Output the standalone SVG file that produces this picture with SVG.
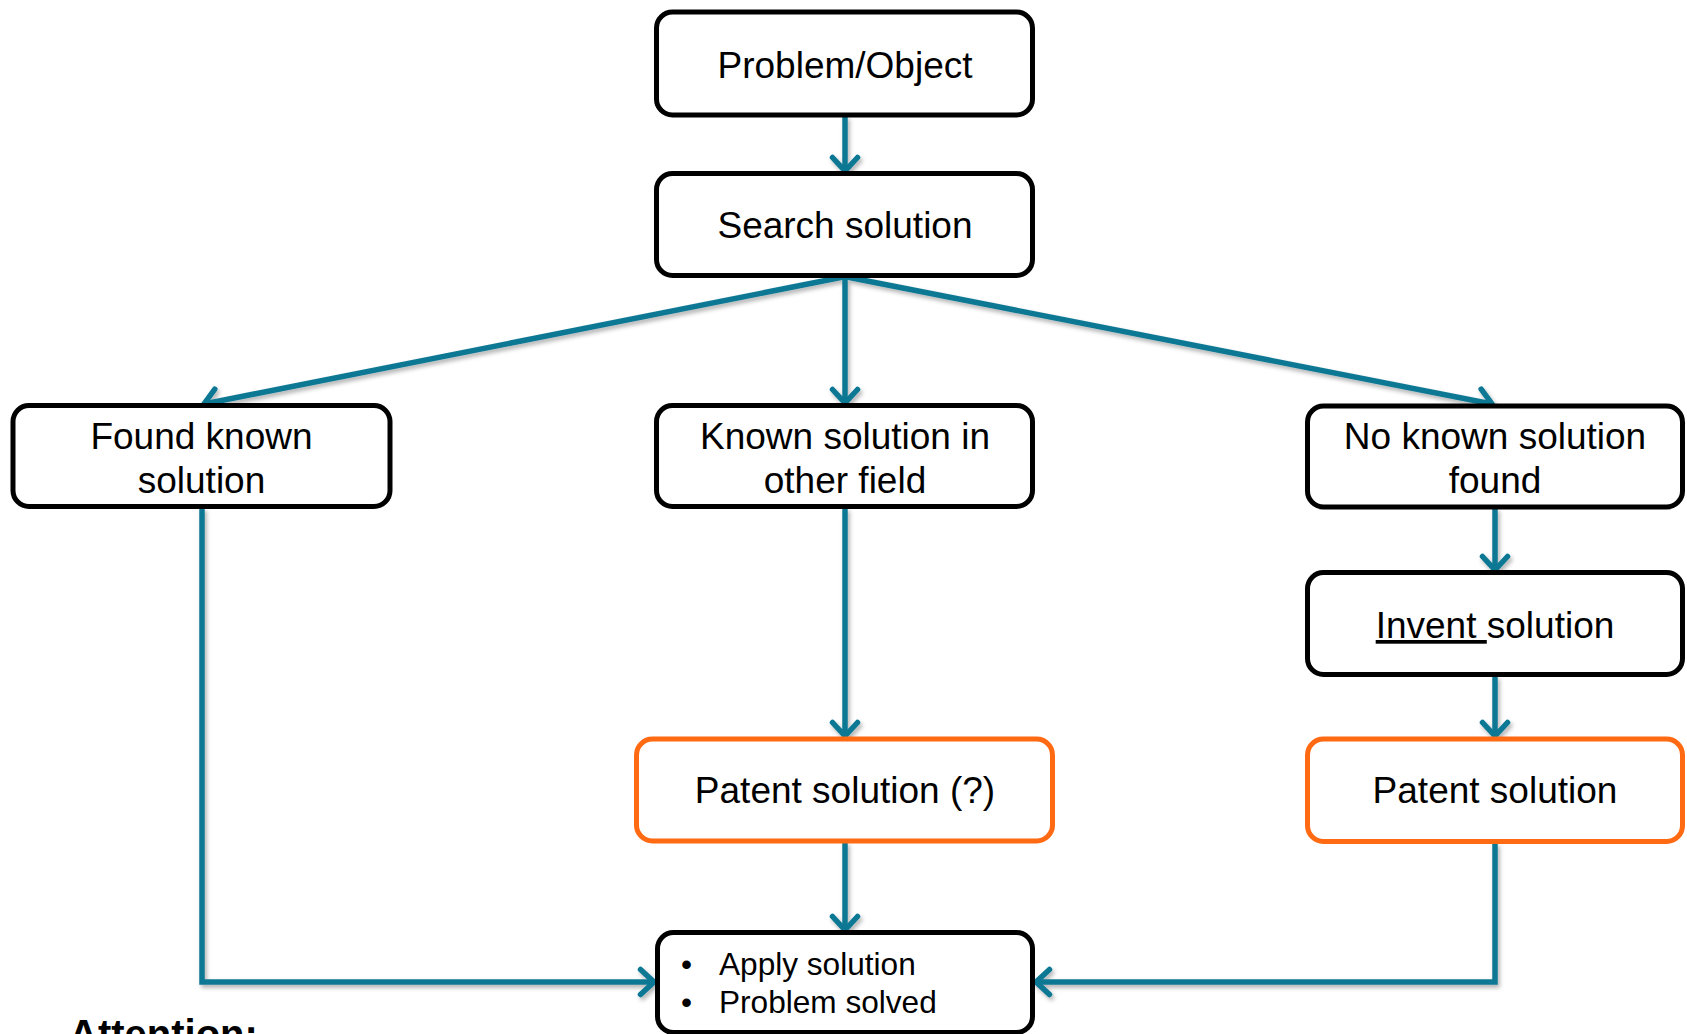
<svg xmlns="http://www.w3.org/2000/svg" width="1687" height="1034" viewBox="0 0 1687 1034">
<style>
.box{fill:#fff;stroke:#000;stroke-width:5}
.pat{fill:#fff;stroke:#FF6A13;stroke-width:5}
.t{font-family:"Liberation Sans",Arial,sans-serif;font-size:37px;fill:#000;text-anchor:middle}
.b{font-family:"Liberation Sans",Arial,sans-serif;font-size:31.6px;fill:#000}
.c{fill:none;stroke:#0F7894;stroke-width:5.5;marker-end:url(#ah)}
</style>
<defs>
<marker id="ah" markerUnits="userSpaceOnUse" markerWidth="32" markerHeight="32" viewBox="-17 -16 21 32" refX="0" refY="0" orient="auto">
<path d="M-13.5,-12.5 L0,0 L-13.5,12.5" fill="none" stroke="#0F7894" stroke-width="5.5" stroke-linecap="round" stroke-linejoin="miter"/>
</marker>
<filter id="sh" x="-5%" y="-5%" width="110%" height="110%">
<feDropShadow dx="2" dy="3" stdDeviation="2" flood-color="#000" flood-opacity="0.3"/>
</filter>
</defs>
<rect width="1687" height="1034" fill="#fff"/>
<g id="connectors" filter="url(#sh)">
<path class="c" d="M845,116 L845,171"/>
<path class="c" d="M843,277 L204,404"/>
<path class="c" d="M845,277 L845,403"/>
<path class="c" d="M847,277 L1492,404"/>
<path class="c" d="M202,508 L202,982 L654,982"/>
<path class="c" d="M845,508 L845,736"/>
<path class="c" d="M845,842 L845,930"/>
<path class="c" d="M1495,508 L1495,570"/>
<path class="c" d="M1495,676 L1495,736"/>
<path class="c" d="M1495,843 L1495,982 L1036,982"/>
</g>
<g id="n1"><rect class="box" x="656.5" y="12" width="376" height="103" rx="16"/><text class="t" x="845" y="78">Problem/Object</text></g>
<g id="n2"><rect class="box" x="656.5" y="173.5" width="376" height="102" rx="16"/><text class="t" x="845" y="238">Search solution</text></g>
<g id="n3"><rect class="box" x="13" y="405.5" width="377" height="101" rx="16"/><text class="t" x="201.5" y="449">Found known</text><text class="t" x="201.5" y="493">solution</text></g>
<g id="n4"><rect class="box" x="656.5" y="405.5" width="376" height="101" rx="16"/><text class="t" x="845" y="449">Known solution in</text><text class="t" x="845" y="493">other field</text></g>
<g id="n5"><rect class="box" x="1307.5" y="406" width="375" height="101" rx="16"/><text class="t" x="1495" y="449">No known solution</text><text class="t" x="1495" y="493">found</text></g>
<g id="n6"><rect class="box" x="1307.5" y="572.5" width="375" height="102" rx="16"/><text class="t" x="1495" y="638"><tspan text-decoration="underline">Invent </tspan>solution</text></g>
<g id="n7"><rect class="pat" x="1307.5" y="739" width="375" height="102.5" rx="16"/><text class="t" x="1495" y="803">Patent solution</text></g>
<g id="n8"><rect class="pat" x="636.5" y="739" width="416" height="102" rx="16"/><text class="t" x="845" y="803">Patent solution (?)</text></g>
<g id="n9"><rect class="box" x="657.5" y="932.5" width="375" height="100" rx="16"/>
<text class="b" y="975"><tspan x="681">•</tspan><tspan x="719">Apply solution</tspan></text>
<text class="b" y="1013"><tspan x="681">•</tspan><tspan x="719">Problem solved</tspan></text></g>
<text x="69" y="1048" font-family="'Liberation Sans',Arial,sans-serif" font-size="40" font-weight="bold" fill="#000">Attention:</text>
</svg>
